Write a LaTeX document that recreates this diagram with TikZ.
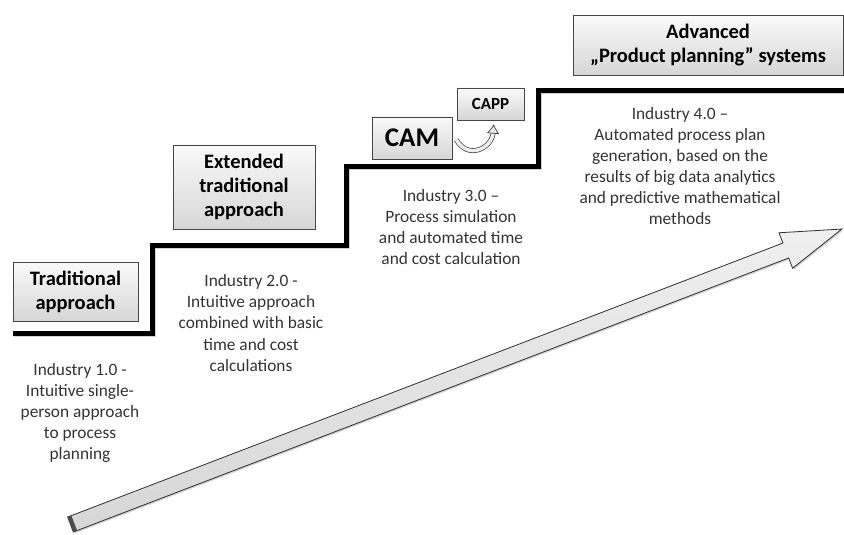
\documentclass[tikz,border=0pt]{standalone}
\usepackage{fontspec}
\setmainfont{Carlito}
\usepackage{tikz}
\usetikzlibrary{arrows.meta,positioning,shadows}

\begin{document}
\begin{tikzpicture}[
			x=0.03cm, y=-0.03cm,
			stage/.style={
				rectangle, draw=gray!55!black, top color=gray!4, bottom color=gray!32,
				align=center, inner sep=1pt, font=\bfseries\fontsize{17.5}{20.5}\selectfont,
				drop shadow={shadow xshift=1.2pt, shadow yshift=-1.2pt, opacity=0.4}
			},
			desc/.style={align=center, text=black!80, font=\fontsize{14.8}{18}\selectfont},
			stair/.style={line width=0.15cm, line join=miter},
			hook/.style={draw=gray!50!black, double=gray!15, double distance=3pt, line width=0.6pt,
				-{Latex[length=8pt, width=11pt, fill=gray!15]}},
			bigarrow/.style={draw=black!80, line width=0.7pt, top color=gray!12, bottom color=gray!32,
				drop shadow={shadow xshift=1.2pt, shadow yshift=-1.2pt, opacity=0.35}}
			]
			\useasboundingbox (0,0) rectangle (844,535);
			% stairs
			\draw[stair, gray!60, opacity=0.6, xshift=1.2pt, yshift=-1.5pt] (13,333) -| (152,245) -| (346,166) -| (538,90) -- (844,90);
			\draw[stair] (13,333) -| (152,245) -| (346,166) -| (538,90) -- (844,90);
			% big arrow
			\begin{scope}[shift={(70.5,524.5)}, rotate=20.96]
				\draw[bigarrow] (0,-8) -- (766,-8) -- (766,-19) -- (826,0) -- (766,19) -- (766,8) -- (0,8) -- cycle;
				\fill[black!70] (0,-8) -- (4,-8) -- (4,8) -- (0,8) -- cycle;
			\end{scope}
			% stages
			\node[stage, minimum width=3.75cm, minimum height=1.77cm] (trad) at (75.5,291.5) {Traditional\\approach};
			\node[stage, minimum width=4.26cm, minimum height=2.52cm] (ext) at (244,187) {Extended\\traditional\\approach};
			\node[stage, minimum width=2.4cm, minimum height=1.26cm, font=\bfseries\fontsize{23}{26}\selectfont] (cam) at (412,138) {CAM};
			\node[stage, minimum width=2.01cm, minimum height=0.96cm, font=\bfseries\fontsize{14.5}{16}\selectfont] (capp) at (490.5,104) {CAPP};
			\node[stage, minimum width=8.1cm, minimum height=1.8cm] (adv) at (708,45) {Advanced\\„Product planning” systems};
			\draw[hook] ([xshift=0.12cm, yshift=-0.05cm]cam.east) to[out=-60, in=-95, looseness=1.5] ([xshift=0.1cm, yshift=-0.12cm]capp.south);
			% descriptions
			\node[desc] (d1) at (80,413) {Industry 1.0 -\\Intuitive single-\\person approach\\to process\\planning};
			\node[desc] (d2) at (251,323) {Industry 2.0 -\\Intuitive approach\\combined with basic\\time and cost\\calculations};
			\node[desc] (d3) at (451,227) {Industry 3.0 –\\Process simulation\\and automated time\\and cost calculation};
			\node[desc] (d4) at (680,166) {Industry 4.0 –\\Automated process plan\\generation, based on the\\results of big data analytics\\and predictive mathematical\\methods};
		\end{tikzpicture}
\end{document}
